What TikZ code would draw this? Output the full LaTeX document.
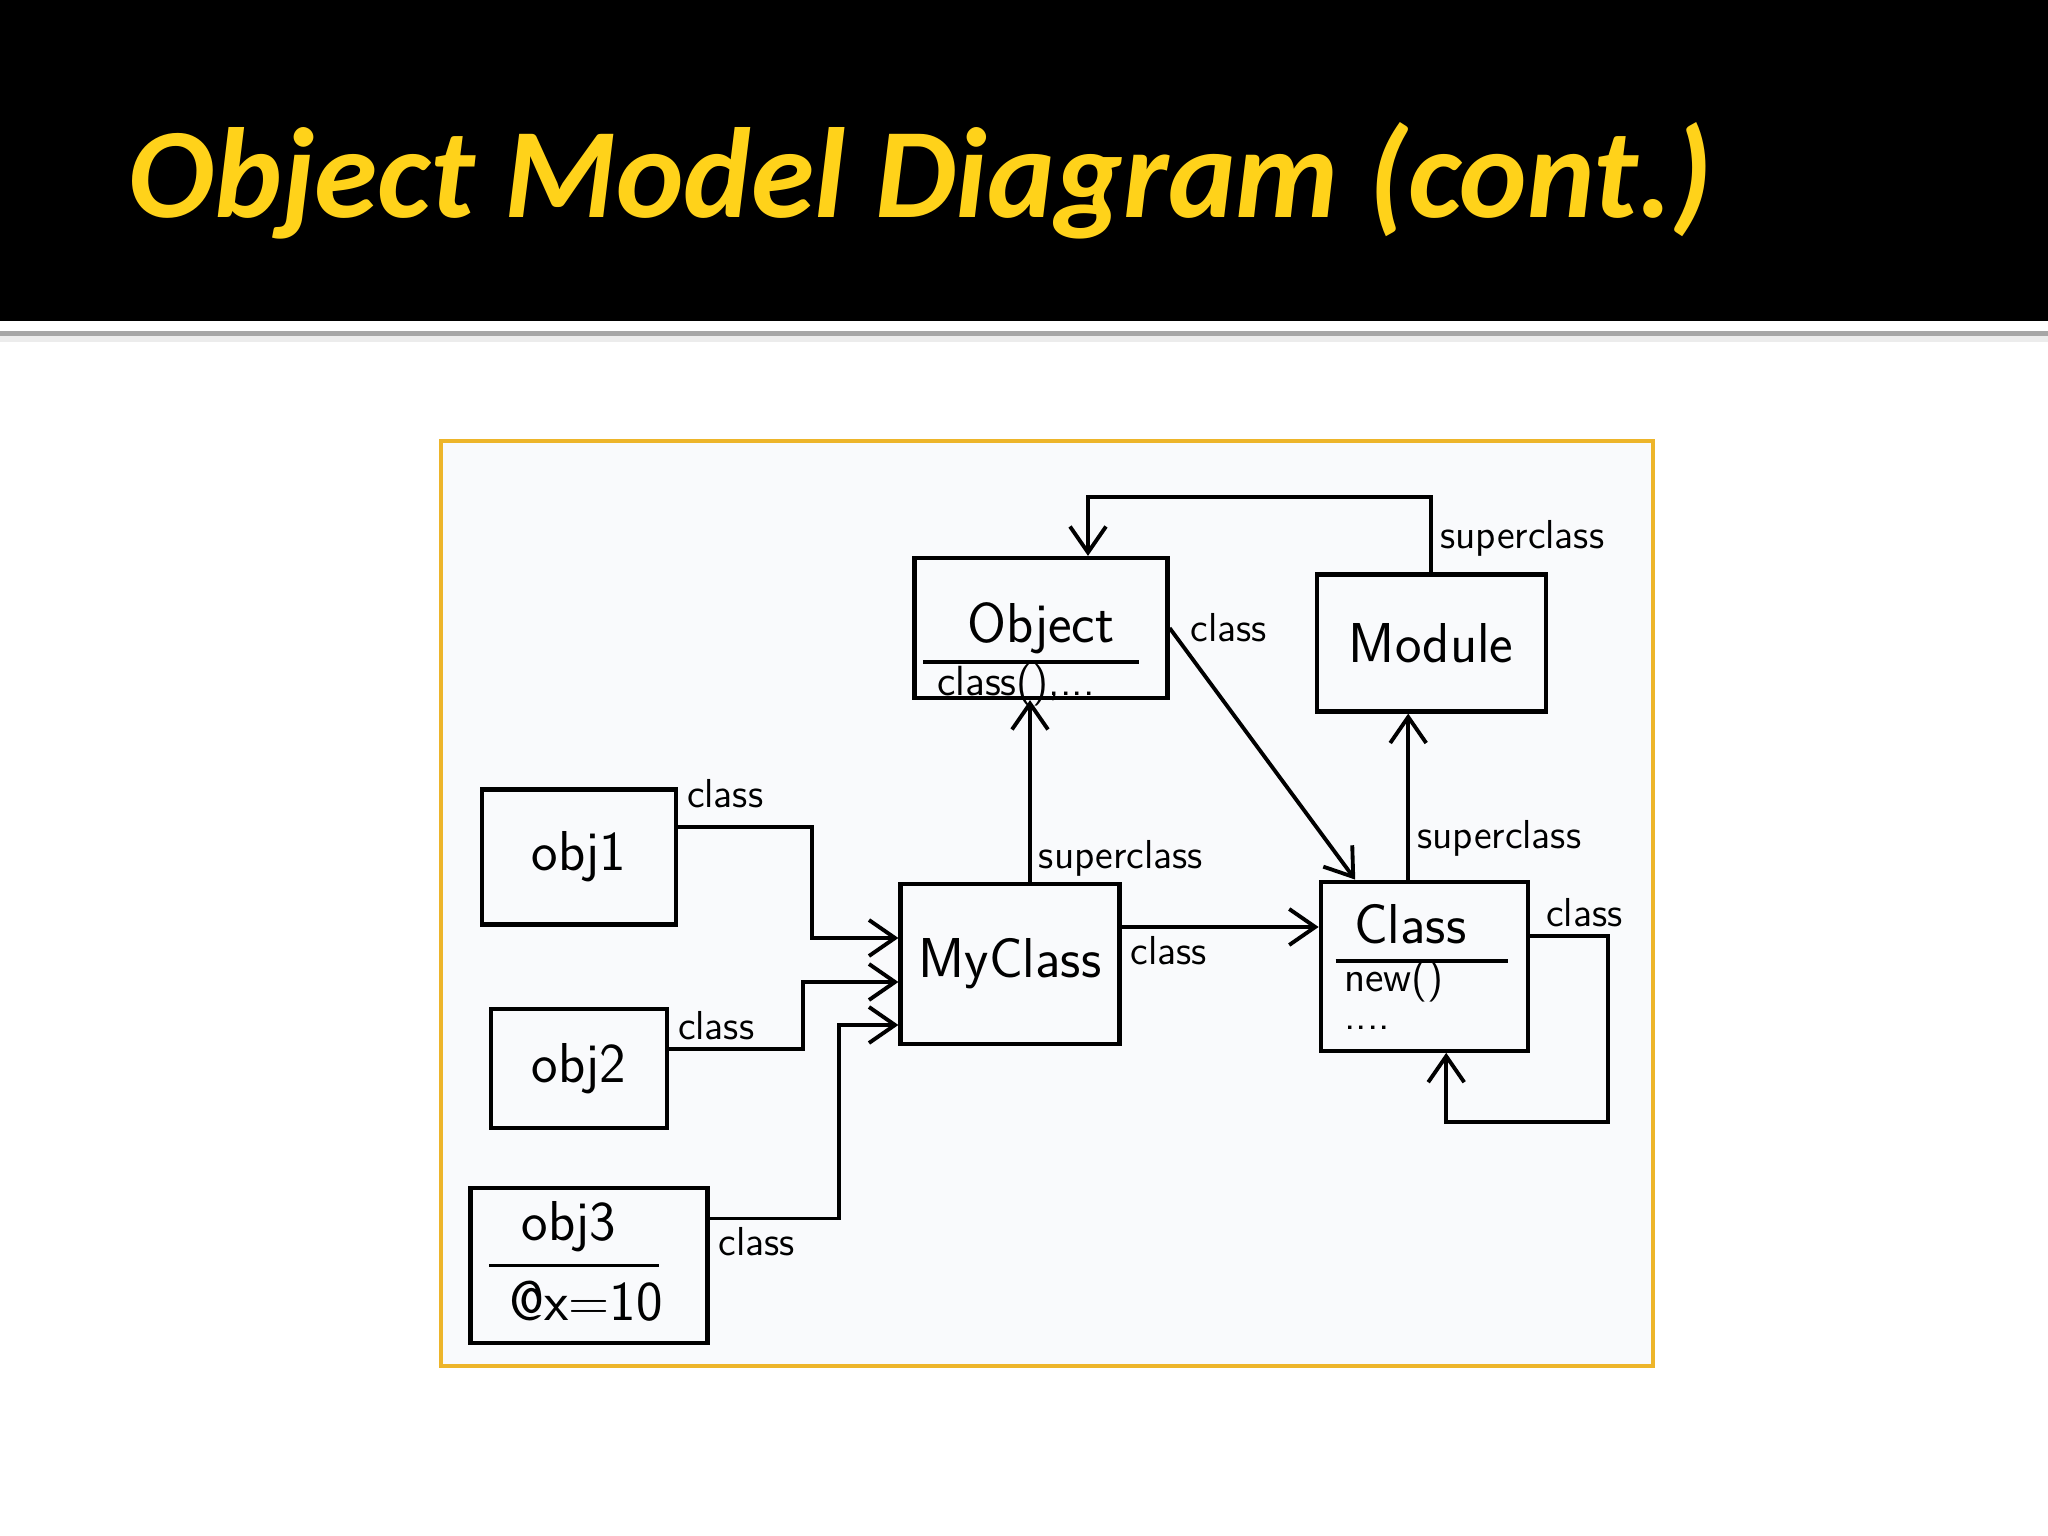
\documentclass[tikz,border=0pt]{standalone}
\usepackage{fontspec}
\newfontfamily\titlefont{Carlito}
\usetikzlibrary{positioning, calc, arrows.meta}
\definecolor{titleyellow}{HTML}{FFD21A}
\definecolor{framegold}{HTML}{EDB52A}
\definecolor{paper}{HTML}{F9FAFC}

\begin{document}
\begin{tikzpicture}[
        node distance=0.8cm,
        font=\sffamily,
        box/.style={rectangle, draw, line width=1.2pt, inner sep=0pt},
        boxname/.style={inner sep=0pt, font=\sffamily\fontsize{16}{19}\selectfont},
        member/.style={inner sep=0pt, font=\sffamily\fontsize{12}{14}\selectfont},
        lbl/.style={inner sep=2pt, font=\sffamily\fontsize{11.5}{13}\selectfont},
        arrow/.style={-{Straight Barb[length=2.6mm, width=3.6mm]}, line width=1.1pt}
    ]

        % Slide
        \useasboundingbox (0,0) rectangle (20.48,-15.36);
        \fill[white] (0,0) rectangle (20.48,-15.36);
        \fill[black] (0,0) rectangle (20.48,-3.21);
        \fill[gray!15] (0,-3.36) rectangle (20.48,-3.42);
        \fill[gray!70] (0,-3.31) rectangle (20.48,-3.36);
        \node [anchor=base west, inner sep=0pt, text=titleyellow,
               font=\titlefont\bfseries\itshape\fontsize{36.5}{42}\selectfont]
              (title) at (1.28,-2.18) {Object Model Diagram (cont.)};
        \draw [framegold, line width=1pt, fill=paper] (4.41,-4.41) rectangle (16.53,-13.66);

        % Nodes
        \node [box, minimum width=2.53cm, minimum height=1.40cm] (obj) at (10.41,-6.28) {};
        \node [box, minimum width=2.29cm, minimum height=1.37cm, right=1.45cm of obj, yshift=-1.5mm] (modl) {};
        \node [box, minimum width=2.19cm, minimum height=1.60cm] (mycls) at (10.10,-9.64) {};
        \node [box, minimum width=2.07cm, minimum height=1.69cm, below=1.66cm of modl, xshift=-0.7mm] (cls) {};

        \node [box, minimum width=1.94cm, minimum height=1.35cm] (obj1) at (5.79,-8.57) {};
        \node [box, minimum width=1.76cm, minimum height=1.19cm, below=0.80cm of obj1] (obj2) {};
        \node [box, minimum width=2.37cm, minimum height=1.55cm, below=0.56cm of obj2, xshift=1mm] (obj3) {};

        % Texts in the boxes
        \node [boxname] (objname) at (obj.center) {Object};
        \draw [line width=1.1pt] ([xshift=1.1mm, yshift=-3.4mm]obj.west) -- ([xshift=-3.1mm, yshift=-3.4mm]obj.east);
        \node [member] (objmeth) at ([xshift=-2.5mm, yshift=1.5mm]obj.south) {class(),...};

        \node [boxname] (modlname) at (modl.center) {Module};
        \node [boxname] (myclsname) at (mycls.center) {MyClass};

        \node [boxname] (clsname) at ([xshift=-1.4mm, yshift=4.2mm]cls.center) {Class};
        \draw [line width=1.1pt] ([xshift=1.7mm, yshift=0.5mm]cls.west) -- ([xshift=-2.2mm, yshift=0.5mm]cls.east);
        \node [member, anchor=west] (clsnew) at ([xshift=2.5mm, yshift=-1.5mm]cls.west) {new()};
        \node [member, anchor=west] (clsdots) at ([xshift=2.5mm, yshift=-6.2mm]cls.west) {....};

        \node [boxname] (obj1name) at (obj1.center) {obj1};
        \node [boxname] (obj2name) at (obj2.center) {obj2};
        \node [boxname] (obj3name) at ([xshift=-2mm, yshift=3.9mm]obj3.center) {obj3};
        \draw [line width=1.1pt] ([xshift=2.1mm]obj3.west) -- ([xshift=-5.1mm]obj3.east);
        \node [boxname] (obj3ivar) at ([xshift=-0.3mm, yshift=-3.6mm]obj3.center) {@x=10};

        % Edges
        \draw [arrow] (modl.north) -- node[lbl, right, pos=0.45] {superclass} ++(0,0.75) -| ([xshift=4.7mm]obj.north);
        \draw [arrow] (obj.east) -- node[lbl, anchor=west, pos=0, xshift=1.2mm] {class} ([xshift=-6.9mm]cls.north);
        \draw [arrow] ([xshift=2mm]mycls.north) -- node[lbl, right, pos=0.13] {superclass} ([xshift=2mm]mycls.north |- obj.south);
        \draw [arrow] ([xshift=-1.6mm]cls.north) -- node[lbl, right, pos=0.25] {superclass} ([xshift=-1.6mm]cls.north |- modl.south);
        \draw [arrow] ([yshift=3.7mm]mycls.east) -- node[lbl, below right, pos=0] {class} ([yshift=3.7mm]mycls.east -| cls.west);
        \draw [arrow] ([yshift=3mm]cls.east) -- node[lbl, above, pos=0.7] {class} ++(0.78,0) -- ++(0,-1.86) -| ([xshift=2.2mm]cls.south);

        \draw [arrow] ([yshift=3mm]obj1.east) -- node[lbl, above right, pos=0, yshift=1mm] {class} ++(1.34,0) |- ([yshift=2.6mm]mycls.west);
        \draw [arrow] ([yshift=1.9mm]obj2.east) -- node[lbl, above right, pos=0] {class} ++(1.34,0) |- ([yshift=-1.8mm]mycls.west);
        \draw [arrow] ([yshift=4.7mm]obj3.east) -- node[lbl, below right, pos=0] {class} ++(1.29,0) |- ([yshift=-6.1mm]mycls.west);

    \end{tikzpicture}
\end{document}
